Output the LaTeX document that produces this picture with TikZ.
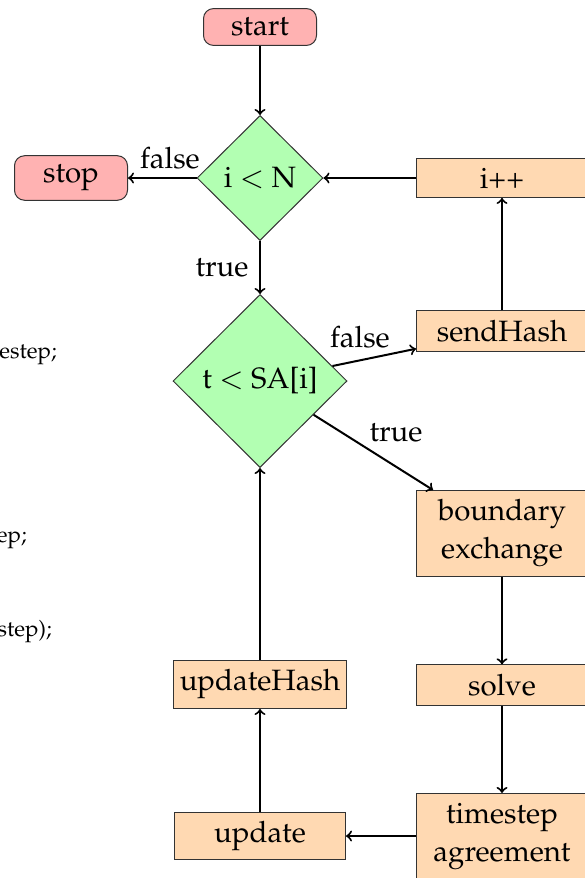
\documentclass[tikz,border=0pt]{standalone}
\usepackage[T1]{fontenc}
\usepackage{mathpazo}
\usetikzlibrary{shapes.geometric}
\begin{document}
\begin{tikzpicture}[x=0.5pt,y=-0.5pt,
  base/.style={font=\fontsize{14.7}{19}\selectfont, inner xsep=3pt, inner ysep=4.6pt},
  term/.style={base, rectangle, rounded corners=5pt, draw=black!80, fill=red!30, minimum width=56.5pt, line width=0.5pt},
  proc/.style={base, rectangle, draw=black!80, fill=orange!30, minimum width=85.5pt, align=center, line width=0.5pt},
  dec/.style={base, diamond, draw=black!80, fill=green!30, inner sep=0pt, line width=0.5pt},
  lbl/.style={font=\fontsize{14.7}{19}\selectfont, inner sep=0pt},
  frag/.style={font=\fontsize{11.2}{13}\selectfont, inner sep=0pt, anchor=base east},
  arr/.style={->, line width=1pt},
]
\useasboundingbox (0,0) rectangle (584,878);
\node[term] (start) at (260,27) {start};
\node[dec, minimum width=63pt, minimum height=62.5pt] (n1) at (260,178) {i $<$ N};
\node[term] (stop) at (71,178) {stop};
\node[proc] (inc) at (502,178) {i++};
\node[dec, minimum width=87pt, minimum height=86.5pt] (n2) at (260,381) {t $<$ SA[i]};
\node[proc] (send) at (502,331) {sendHash};
\node[proc] (bex) at (502,533.5) {boundary\\exchange};
\node[proc] (solve) at (502,685) {solve};
\node[proc] (ts) at (502,836) {timestep\\agreement};
\node[proc] (upd) at (260,836) {update};
\node[proc] (uh) at (260,684.5) {updateHash};

\draw[arr] (start) -- (n1);
\draw[arr] (n1) -- (stop);
\draw[arr] (inc) -- (n1);
\draw[arr] (n1) -- (n2);
\draw[arr] (n2) -- (send);
\draw[arr] (n2) -- (bex);
\draw[arr] (send) -- (inc);
\draw[arr] (bex) -- (solve);
\draw[arr] (solve) -- (ts);
\draw[arr] (ts) -- (upd);
\draw[arr] (upd) -- (uh);
\draw[arr] (uh) -- (n2);

\node[lbl] (f1) at (170,158) {false};
\node[lbl] (t1) at (222,268) {true};
\node[lbl] (f2) at (360,337) {false};
\node[lbl] (t2) at (396,433) {true};

\node[frag] (c1) at (57,358) {estep;};
\node[frag] (c2) at (27,542) {ep;};
\node[frag] (c3) at (52,636) {estep);};
\end{tikzpicture}
\end{document}
